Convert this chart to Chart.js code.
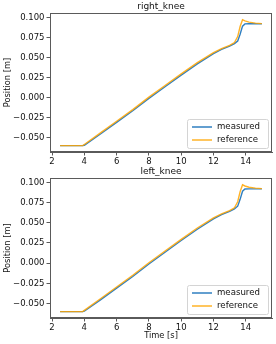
<!DOCTYPE html>
<html>
<head>
<meta charset="utf-8">
<script src="https://cdn.jsdelivr.net/npm/chart.js@4/dist/chart.umd.min.js"></script>
<style>
  html, body { margin: 0; padding: 0; background: #fff; }
  body { width: 276px; height: 344px; position: relative; overflow: hidden; }
  canvas { position: absolute; left: 0; }
  #rightChart { top: 0px; }
  #leftChart { top: 165px; }
</style>
</head>
<body>
<canvas id="rightChart" width="276" height="172"></canvas>
<canvas id="leftChart" width="276" height="179"></canvas>
<script>
const time = [2.5, 3.9, 4.0, 5, 6, 7, 8, 9, 10, 11, 12, 12.5, 13, 13.3, 13.5, 13.65, 13.8, 13.95, 14.2, 14.6, 15]

const rightMeasured = [-0.06, -0.06, -0.0595, -0.0455, -0.031, -0.0165, -0.001, 0.0135, 0.028, 0.042, 0.0548, 0.06, 0.0642, 0.0672, 0.0705, 0.079, 0.089, 0.0918, 0.092, 0.092, 0.092]
const rightReference = [-0.06, -0.06, -0.0585, -0.044, -0.0295, -0.015, 0.0005, 0.015, 0.0295, 0.0435, 0.056, 0.061, 0.065, 0.0685, 0.076, 0.0885, 0.097, 0.0955, 0.094, 0.0928, 0.0922]

const leftMeasured = [-0.06, -0.06, -0.0595, -0.0455, -0.031, -0.0165, -0.001, 0.0135, 0.028, 0.042, 0.0548, 0.06, 0.0642, 0.0672, 0.0705, 0.079, 0.089, 0.0918, 0.092, 0.092, 0.092]
const leftReference = [-0.06, -0.06, -0.0585, -0.044, -0.0295, -0.015, 0.0005, 0.015, 0.0295, 0.0435, 0.056, 0.061, 0.065, 0.0685, 0.076, 0.0885, 0.097, 0.0955, 0.094, 0.0928, 0.0922]

const xTicks = [2, 4, 6, 8, 10, 12, 14]
const yTicks = [-0.05, -0.025, 0, 0.025, 0.05, 0.075, 0.1]
const seriesLabels = [`measured`, `reference`]

const FONT = `"DejaVu Sans", sans-serif`
const SPINE = `#5a5a5a`
const TEXT = `#111`
const BLUE = `#2f7fc1`
const ORANGE = `rgba(255,165,0,0.85)`

const toPoints = (xs, ys) => xs.map((x, i) => ({ x: x, y: ys[i] }))

// frame, subplot title and matplotlib style legend
const decorations = {
  id: `decorations`,
  afterDraw(chart, args, opts) {
    const ctx = chart.ctx
    const a = chart.chartArea
    ctx.save()
    ctx.strokeStyle = SPINE
    ctx.lineWidth = 1
    ctx.strokeRect(Math.round(a.left) + 0.5, Math.round(a.top) + 0.5, Math.round(a.right - a.left) - 1, Math.round(a.bottom - a.top) - 1)

    ctx.fillStyle = TEXT
    ctx.font = `9px ${FONT}`
    ctx.textAlign = `center`
    ctx.textBaseline = `middle`
    ctx.fillText(opts.title, (a.left + a.right) / 2, a.top - 6.5)

    const w = 81, h = 29
    const lx = a.right - 4 - w, ly = a.bottom - 4 - h
    ctx.beginPath()
    ctx.roundRect(lx + 0.5, ly + 0.5, w, h, 2)
    ctx.fillStyle = `rgba(255,255,255,0.85)`
    ctx.fill()
    ctx.strokeStyle = `#d4d4d4`
    ctx.stroke()
    ctx.font = `8.6px ${FONT}`
    ctx.textAlign = `left`
    chart.data.datasets.forEach((ds, i) => {
      const y = ly + 8 + i * 13
      ctx.beginPath()
      ctx.moveTo(lx + 5, y)
      ctx.lineTo(lx + 25, y)
      ctx.strokeStyle = ds.borderColor
      ctx.lineWidth = 1.5
      ctx.stroke()
      ctx.fillStyle = TEXT
      ctx.fillText(ds.label, lx + 30, y)
    })
    ctx.restore()
  },
}

function makeChart(id, title, measured, reference, axisHeight, showXTitle) {
  return new Chart(document.getElementById(id), {
    type: `line`,
    data: {
      datasets: [
        {
          label: seriesLabels[0],
          data: toPoints(time, measured),
          borderColor: BLUE,
          borderWidth: 1.4,
          order: 1,
        },
        {
          label: seriesLabels[1],
          data: toPoints(time, reference),
          borderColor: ORANGE,
          borderWidth: 1.4,
          order: 0,
        },
      ],
    },
    options: {
      responsive: false,
      animation: false,
      devicePixelRatio: 1,
      parsing: false,
      elements: { point: { radius: 0 }, line: { tension: 0 } },
      layout: { padding: { top: 13, right: 4, left: 0, bottom: 0 } },
      plugins: {
        legend: { display: false },
        tooltip: { enabled: false },
        decorations: { title: title },
      },
      scales: {
        x: {
          type: `linear`,
          min: 1.875,
          max: 15.625,
          afterBuildTicks: (s) => { s.ticks = xTicks.map((v) => ({ value: v })) },
          afterFit: (s) => { s.height = axisHeight },
          grid: { drawOnChartArea: false, drawTicks: true, tickLength: 3.5, color: SPINE },
          border: { display: true, color: SPINE },
          ticks: {
            color: TEXT,
            font: { family: FONT, size: 8.5 },
            padding: 1,
            maxRotation: 0,
            autoSkip: false,
            callback: (v) => String(v),
          },
          title: {
            display: showXTitle,
            text: `Time [s]`,
            color: TEXT,
            font: { family: FONT, size: 8.3 },
            padding: { top: 0, bottom: 3 },
          },
        },
        y: {
          type: `linear`,
          min: -0.0679,
          max: 0.1054,
          afterBuildTicks: (s) => { s.ticks = yTicks.map((v) => ({ value: v })) },
          afterFit: (s) => { s.width = 50 },
          grid: { drawOnChartArea: false, drawTicks: true, tickLength: 3.5, color: SPINE },
          border: { display: true, color: SPINE },
          ticks: {
            color: TEXT,
            font: { family: FONT, size: 8.5 },
            padding: 2,
            autoSkip: false,
            callback: (v) => (v < 0 ? `\u2212` : ``) + Math.abs(v).toFixed(3),
          },
          title: {
            display: true,
            text: `Position [m]`,
            color: TEXT,
            font: { family: FONT, size: 8.3 },
            padding: { top: 3, bottom: 0 },
          },
        },
      },
    },
    plugins: [decorations],
  })
}

makeChart(`rightChart`, `right_knee`, rightMeasured, rightReference, 20, false)
makeChart(`leftChart`, `left_knee`, leftMeasured, leftReference, 26, true)
</script>
</body>
</html>
